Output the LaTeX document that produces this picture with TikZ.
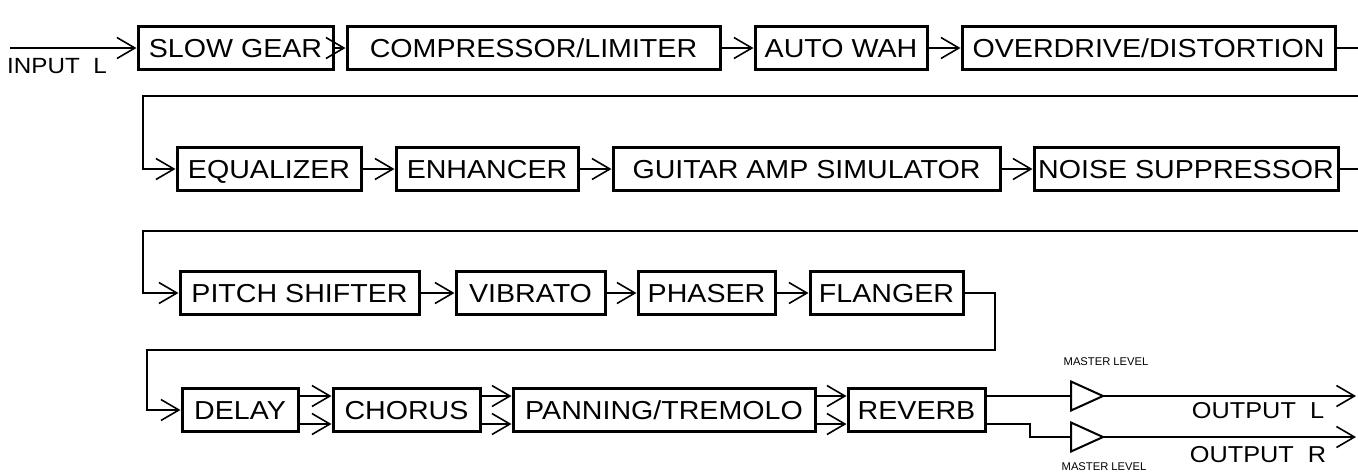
\documentclass[tikz,border=0pt]{standalone}
\usepackage{fontspec}
\setmainfont{Liberation Sans}
\newfontfamily\boxfont[FakeStretch=1.1]{Liberation Sans}
\usetikzlibrary{arrows.meta,shapes.geometric}
\begin{document}
\begin{tikzpicture}[x=0.5pt,y=-0.5pt,
  blk/.style={draw, line width=1.5pt, inner sep=0pt, minimum height=21.5pt,
    text height=9.3pt, text depth=0pt, font=\boxfont\fontsize{13}{13}\selectfont},
  wire/.style={line width=0.8pt},
  arr/.style={wire,-{Straight Barb[length=9pt,width=10.5pt,line width=0.8pt]}},
  amp/.style={draw, isosceles triangle, isosceles triangle stretches,
    minimum width=14.5pt, minimum height=16pt, inner sep=0pt, outer sep=0pt, line width=1pt},
  lbl/.style={inner sep=0pt, font=\boxfont\fontsize{11.5}{11.5}\selectfont},
  small/.style={inner sep=0pt, font=\fontsize{5.6}{5.6}\selectfont}]
\useasboundingbox (0,0) rectangle (1358,473);

% ---- row 1
\node[blk, minimum width=97.5pt]  (sg) at (235.5,48) {SLOW GEAR};
\node[blk, minimum width=186.5pt] (cl) at (533.5,48) {COMPRESSOR/LIMITER};
\node[blk, minimum width=86pt]    (aw) at (841,48)   {AUTO WAH};
\node[blk, minimum width=186.5pt] (od) at (1148.5,48) {OVERDRIVE/DISTORTION};
% ---- row 2
\node[blk, minimum width=92pt]    (eq) at (269,169)   {EQUALIZER};
\node[blk, minimum width=91pt]    (en) at (487,169)   {ENHANCER};
\node[blk, minimum width=193.5pt] (ga) at (806.5,169) {GUITAR AMP SIMULATOR};
\node[blk, minimum width=152pt]   (ns) at (1186,169)  {NOISE SUPPRESSOR};
% ---- row 3
\node[blk, minimum width=119.5pt] (ps) at (299.5,293) {PITCH SHIFTER};
\node[blk, minimum width=74.5pt]  (vb) at (530.5,293) {VIBRATO};
\node[blk, minimum width=68.5pt]  (ph) at (706.5,293) {PHASER};
\node[blk, minimum width=76.5pt]  (fl) at (886.5,293) {FLANGER};
% ---- row 4
\node[blk, minimum width=58pt]    (dl) at (240,410)   {DELAY};
\node[blk, minimum width=73.5pt]  (ch) at (406.5,410) {CHORUS};
\node[blk, minimum width=151pt]   (pt) at (664,410)   {PANNING/TREMOLO};
\node[blk, minimum width=68.5pt]  (rv) at (916.5,410) {REVERB};

% master level amps
\node[amp, anchor=west] (ampL) at (1071,396) {};
\node[amp, anchor=west] (ampR) at (1071,437) {};

% labels
\node[lbl, font=\boxfont\fontsize{11}{11}\selectfont] (inlab) at (57,66) {INPUT\ \ L};
\node[lbl] (outLlab) at (1258,411) {OUTPUT\ \ L};
\node[lbl] (outRlab) at (1258,455) {OUTPUT\ \ R};
\node[small] (mlL) at (1106,362) {MASTER LEVEL};
\node[small] (mlR) at (1104,467) {MASTER LEVEL};

% free ends / corners
\coordinate (inL) at (10,48);
\coordinate (r1e) at (1358,48);
\coordinate (r2s) at (1358,96);
\coordinate (c1) at (143,96);
\coordinate (r2e) at (1358,169);
\coordinate (r3s) at (1358,231);
\coordinate (c2) at (143,231);
\coordinate (c3) at (995,293);
\coordinate (c4) at (995,350);
\coordinate (c5) at (147,350);
\coordinate (c6) at (1030,424);
\coordinate (outL) at (1356,396);
\coordinate (outR) at (1356,437);

% connectors
\draw[arr] (inL) -- (sg.west);
\draw[arr] (sg.east) -- (cl.west);
\draw[arr] (cl.east) -- (aw.west);
\draw[arr] (aw.east) -- (od.west);
\draw[wire] (od.east) -- (r1e);
\draw[arr] (r2s) -- (c1) |- (eq.west);
\draw[arr] (eq.east) -- (en.west);
\draw[arr] (en.east) -- (ga.west);
\draw[arr] (ga.east) -- (ns.west);
\draw[wire] (ns.east) -- (r2e);
\draw[arr] (r3s) -- (c2) |- (ps.west);
\draw[arr] (ps.east) -- (vb.west);
\draw[arr] (vb.east) -- (ph.west);
\draw[arr] (ph.east) -- (fl.west);
\draw[arr] (fl.east) -- (c3) -- (c4) -- (c5) |- (dl.west);
\foreach \s in {7pt,-7pt}{
  \draw[arr] ([yshift=\s]dl.east) -- ([yshift=\s]ch.west);
  \draw[arr] ([yshift=\s]ch.east) -- ([yshift=\s]pt.west);
  \draw[arr] ([yshift=\s]pt.east) -- ([yshift=\s]rv.west);
}
\draw[wire] ([yshift=7pt]rv.east) -- (ampL.west);
\draw[wire] ([yshift=-7pt]rv.east) -- (c6) |- (ampR.west);
\draw[arr] (ampL.apex) -- (outL);
\draw[arr] (ampR.apex) -- (outR);
\end{tikzpicture}
\end{document}
